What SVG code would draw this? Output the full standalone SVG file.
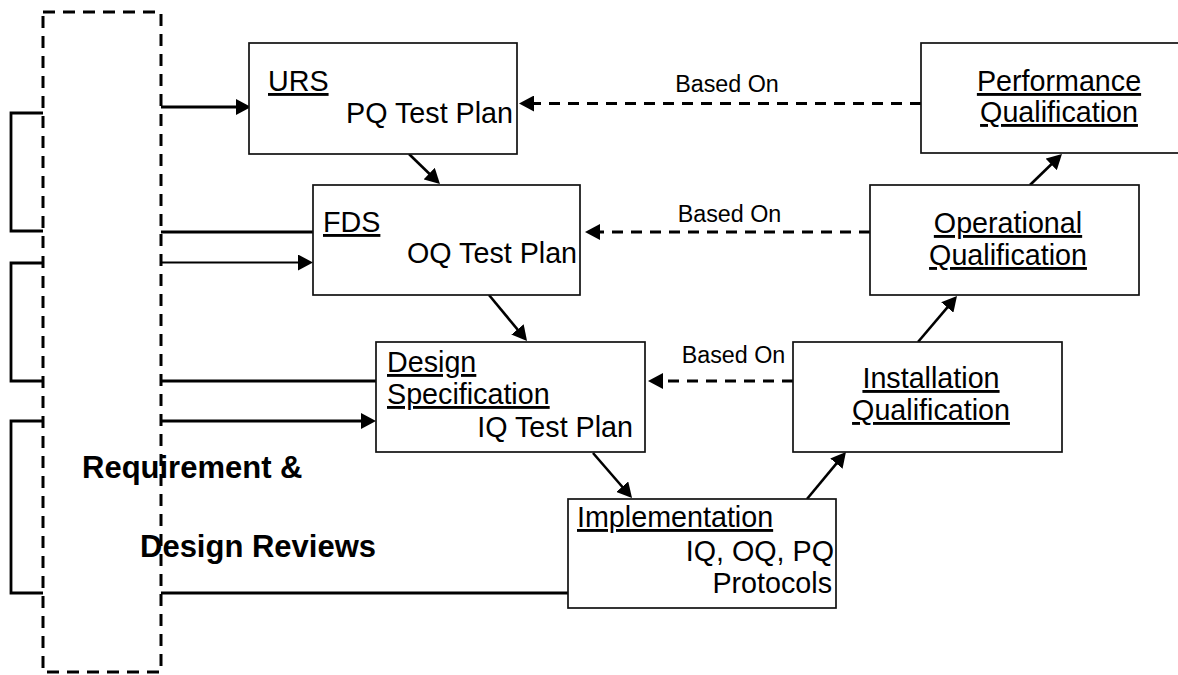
<svg xmlns="http://www.w3.org/2000/svg" width="1178" height="675" viewBox="0 0 1178 675">
  <style>
    .box { fill: #ffffff; stroke: #111111; stroke-width: 1.7; }
    .t { font-family: "Liberation Sans", Arial, sans-serif; font-size: 28.7px; fill: #000000; }
    .u { text-decoration: underline; }
    .mid { text-anchor: middle; }
    .end { text-anchor: end; }
    .note { font-family: "Liberation Sans", Arial, sans-serif; font-size: 23.3px; fill: #000000; text-anchor: middle; }
    .review { font-family: "Liberation Sans", Arial, sans-serif; font-size: 31px; font-weight: bold; fill: #000000; }
    .flow { fill: none; stroke: #000000; stroke-width: 2.6; }
    .feed { fill: none; stroke: #000000; stroke-width: 3; }
    .thin { fill: none; stroke: #000000; stroke-width: 2; }
    .based { fill: none; stroke: #000000; stroke-width: 3.2; stroke-dasharray: 11 8; }
    .frame { fill: none; stroke: #000000; stroke-width: 3; stroke-dasharray: 12 8; }
    .bracket { fill: none; stroke: #000000; stroke-width: 2.8; }
  </style>
  <defs>
    <marker id="head" viewBox="0 0 15 16" markerUnits="userSpaceOnUse" markerWidth="15" markerHeight="16" refX="11" refY="8" orient="auto">
      <path d="M0,0 L15,8 L0,16 z" fill="#000000"/>
    </marker>
  </defs>

  <rect width="1178" height="675" fill="#ffffff"/>

  <!-- review frame and side brackets -->
  <g id="reviews">
    <rect class="frame" x="43" y="12" width="118" height="660"/>
    <path class="bracket" d="M43,113 H11 V231 H43"/>
    <path class="bracket" d="M43,263 H11 V381 H43"/>
    <path class="bracket" d="M43,421 H11 V593 H43"/>
    <text class="review" x="82" y="478">Requirement &amp;</text>
    <text class="review" x="140" y="557">Design Reviews</text>
  </g>

  <!-- connectors -->
  <g id="connectors">
    <!-- review links -->
    <line class="feed" x1="161" y1="107" x2="247" y2="107" marker-end="url(#head)"/>
    <line class="feed" x1="161" y1="232" x2="313" y2="232"/>
    <line class="thin" x1="161" y1="262.5" x2="309" y2="262.5" marker-end="url(#head)"/>
    <line class="feed" x1="161" y1="381" x2="376" y2="381"/>
    <line class="feed" x1="161" y1="421" x2="372" y2="421" marker-end="url(#head)"/>
    <line class="feed" x1="161" y1="593" x2="568" y2="593"/>

    <!-- V-model flow -->
    <line class="flow" x1="409" y1="154" x2="437.1" y2="181.2" marker-end="url(#head)"/>
    <line class="flow" x1="489" y1="295" x2="524.5" y2="337.9" marker-end="url(#head)"/>
    <line class="flow" x1="593" y1="453" x2="629.4" y2="495" marker-end="url(#head)"/>
    <line class="flow" x1="807" y1="499" x2="843.4" y2="455.1" marker-end="url(#head)"/>
    <line class="flow" x1="918" y1="342" x2="954.4" y2="299.1" marker-end="url(#head)"/>
    <line class="flow" x1="1030" y1="185" x2="1059.1" y2="156.8" marker-end="url(#head)"/>

    <!-- "Based On" links -->
    <line class="based" x1="921" y1="103.5" x2="523" y2="103.5" marker-end="url(#head)"/>
    <line class="based" x1="870" y1="232" x2="589" y2="232" marker-end="url(#head)"/>
    <line class="based" x1="793" y1="381" x2="652" y2="381" marker-end="url(#head)"/>
    <text class="note" x="727" y="92">Based On</text>
    <text class="note" x="729.5" y="222">Based On</text>
    <text class="note" x="733.5" y="363">Based On</text>
  </g>

  <g id="urs">
    <rect class="box" x="249" y="43" width="268" height="111"/>
    <text class="t u" x="268" y="91">URS</text>
    <text class="t end" x="513" y="123">PQ Test Plan</text>
  </g>

  <g id="fds">
    <rect class="box" x="313" y="185" width="267" height="110"/>
    <text class="t u" x="323" y="232">FDS</text>
    <text class="t" x="407" y="263">OQ Test Plan</text>
  </g>

  <g id="design-spec">
    <rect class="box" x="376" y="342" width="269" height="110"/>
    <text class="t u" x="387" y="372">Design</text>
    <text class="t u" x="387" y="404">Specification</text>
    <text class="t end" x="633" y="437">IQ Test Plan</text>
  </g>

  <g id="implementation">
    <rect class="box" x="568" y="499" width="268" height="109"/>
    <text class="t u" x="577" y="527">Implementation</text>
    <text class="t end" x="834" y="561">IQ, OQ, PQ</text>
    <text class="t end" x="832" y="593">Protocols</text>
  </g>

  <g id="installation-qualification">
    <rect class="box" x="793" y="342" width="269" height="110"/>
    <text class="t u mid" x="931" y="388">Installation</text>
    <text class="t u mid" x="931" y="420">Qualification</text>
  </g>

  <g id="operational-qualification">
    <rect class="box" x="870" y="185" width="269" height="110"/>
    <text class="t u mid" x="1008" y="233">Operational</text>
    <text class="t u mid" x="1008" y="265">Qualification</text>
  </g>

  <g id="performance-qualification">
    <rect class="box" x="921" y="43" width="270" height="110"/>
    <text class="t u mid" x="1059" y="91">Performance</text>
    <text class="t u mid" x="1059" y="122">Qualification</text>
  </g>
</svg>
